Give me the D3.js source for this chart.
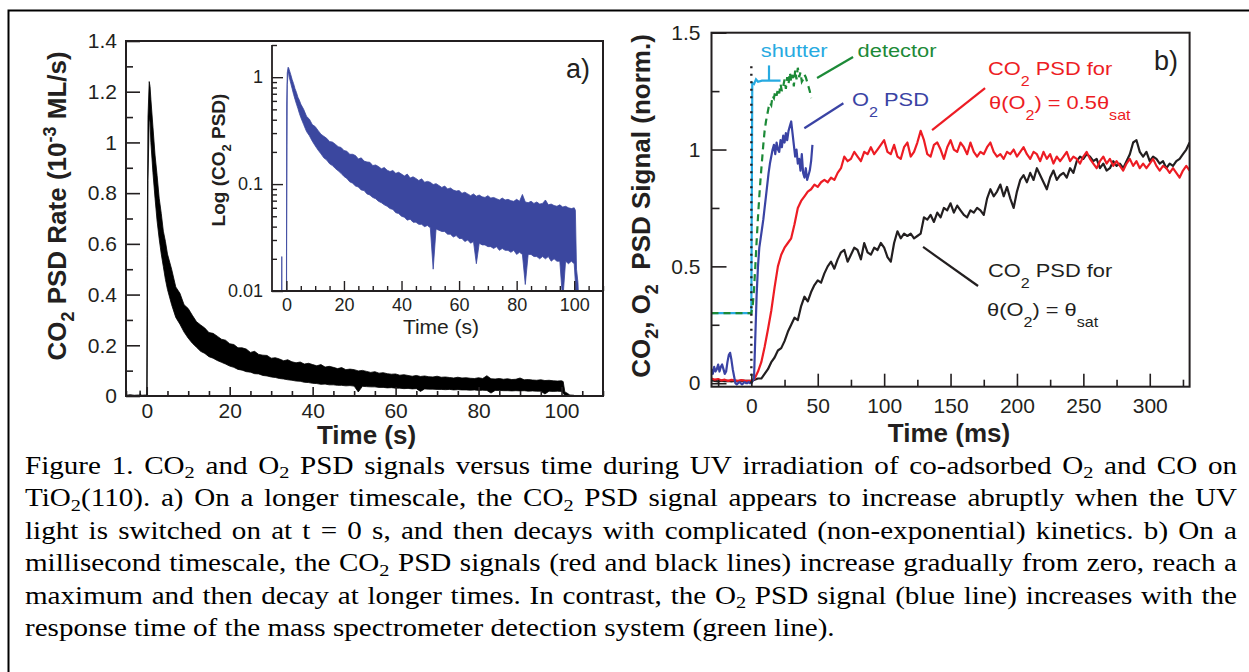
<!DOCTYPE html>
<html>
<head>
<meta charset="utf-8">
<script src="https://cdn.jsdelivr.net/npm/d3@7"></script>
<style>
  html, body { margin: 0; padding: 0; background: #fff; }
  svg { display: block; }
</style>
</head>
<body>
<svg id="fig" width="1249" height="672"></svg>
<script>
// ---------------- data ----------------
// Panel a: CO2 PSD rate (10^-3 ML/s) vs time (s); the noisy trace is kept as its upper/lower envelope
const psdTime = [-5, -4, -3, -2, -1.7, -1.6, -1.5, -1, -0.3, 0, 0.1, 0.3, 0.6, 0.8, 1, 1.5, 2, 2.5, 3, 3.5, 4, 4.5,
  5, 6, 7, 8, 9, 10, 11, 12, 13, 14, 15, 16, 17, 18, 19, 20, 21, 22, 23, 24,
  25, 26, 27, 28, 29, 30, 31, 32, 33, 34, 35, 36, 37, 38, 39, 40, 41, 42, 43, 44,
  45, 46, 47, 48, 49, 50, 51, 52, 53, 54, 55, 56, 57, 58, 59, 60, 61, 62, 63, 64,
  65, 66, 67, 68, 69, 70, 71, 72, 73, 74, 75, 76, 77, 78, 79, 80, 81, 82, 83, 84,
  85, 86, 87, 88, 89, 90, 91, 92, 93, 94, 95, 96, 97, 98, 99, 100,
  100.4, 100.8, 101.3, 102, 103];
const psdHigh = [0.003, 0.005, 0.003, 0.004, 0.004, 0.021, 0.004, 0.003, 0.004, 0.004, 0.55, 1.1, 1.24, 1.22, 1.17, 1.06, 0.95, 0.87, 0.78, 0.72, 0.65, 0.61,
  0.56, 0.5, 0.43, 0.405, 0.36, 0.345, 0.318, 0.293, 0.28, 0.268, 0.25, 0.247, 0.236, 0.224, 0.22, 0.206, 0.203, 0.19, 0.19, 0.185,
  0.172, 0.176, 0.164, 0.161, 0.16, 0.149, 0.151, 0.146, 0.139, 0.143, 0.135, 0.131, 0.134, 0.126, 0.129, 0.124, 0.119, 0.124, 0.114, 0.117,
  0.113, 0.108, 0.112, 0.104, 0.106, 0.104, 0.099, 0.101, 0.097, 0.093, 0.096, 0.09, 0.092, 0.088, 0.086, 0.087, 0.082, 0.084, 0.081, 0.078,
  0.081, 0.077, 0.079, 0.076, 0.075, 0.078, 0.074, 0.075, 0.073, 0.071, 0.074, 0.071, 0.072, 0.07, 0.069, 0.072, 0.069, 0.08, 0.068, 0.067,
  0.069, 0.066, 0.068, 0.065, 0.066, 0.071, 0.064, 0.065, 0.063, 0.062, 0.064, 0.061, 0.062, 0.06, 0.059, 0.06,
  0.057, 0.016, 0.012, 0.004, 0.003];
const psdLow = [0.001, 0.001, 0.001, 0.001, 0.001, 0.001, 0.001, 0.001, 0.001, 0.001, 0.03, 0.85, 1.1, 1.08, 1.0, 0.88, 0.78, 0.69, 0.62, 0.56, 0.51, 0.46,
  0.42, 0.36, 0.31, 0.283, 0.252, 0.228, 0.208, 0.192, 0.176, 0.168, 0.155, 0.149, 0.14, 0.133, 0.126, 0.118, 0.113, 0.105, 0.102, 0.096,
  0.094, 0.088, 0.087, 0.081, 0.079, 0.075, 0.073, 0.069, 0.067, 0.064, 0.062, 0.059, 0.058, 0.054, 0.053, 0.05, 0.049, 0.046, 0.047, 0.044,
  0.044, 0.042, 0.042, 0.04, 0.041, 0.039, 0.016, 0.038, 0.037, 0.036, 0.036, 0.034, 0.034, 0.032, 0.033, 0.031, 0.031, 0.029, 0.03, 0.028,
  0.029, 0.018, 0.028, 0.027, 0.027, 0.026, 0.026, 0.025, 0.026, 0.024, 0.025, 0.024, 0.024, 0.023, 0.024, 0.022, 0.023, 0.022, 0.0115, 0.022,
  0.022, 0.021, 0.021, 0.02, 0.021, 0.02, 0.021, 0.019, 0.02, 0.019, 0.019, 0.008, 0.019, 0.018, 0.019, 0.018,
  0.012, 0.001, 0.001, 0.001, 0.001];

// Panel b: normalised signals vs time (ms)
const msTime = d3.range(-30, 330.01, 2.5);           // sampling grid of the CO2 traces
const co2Half = [0.02, 0.015, 0.018, 0.012, 0.015, 0.01, 0.014, 0.012, 0.01, 0.013, 0.011, 0.01,
  0.01, 0.02, 0.05, 0.09, 0.155, 0.23, 0.31, 0.41, 0.5, 0.55,
  0.58, 0.6, 0.62, 0.68, 0.75, 0.78, 0.8, 0.82, 0.83, 0.85,
  0.84, 0.86, 0.87, 0.86, 0.88, 0.87, 0.9, 0.92, 0.97, 0.95,
  0.96, 0.99, 0.97, 0.95, 0.99, 0.98, 1.01, 0.98, 1.0, 1.02,
  1.04, 0.99, 0.98, 1.02, 0.97, 0.96, 1.01, 1.03, 0.97, 0.99,
  1.03, 1.08, 1.04, 0.98, 0.97, 1.02, 1.03, 1.0, 0.96, 1.01,
  1.04, 1.0, 0.99, 1.03, 1.01, 0.98, 1.03, 0.99, 0.97, 0.99,
  0.98, 1.01, 1.03, 0.99, 0.97, 0.98, 0.96, 0.99, 0.98, 1.0,
  0.97, 0.99, 1.01, 0.98, 0.96, 0.99, 0.98, 0.95, 0.99, 0.96,
  0.98, 0.94, 0.97, 0.95, 0.97, 0.99, 0.95, 0.97, 0.96, 0.94,
  0.97, 0.99, 0.96, 0.94, 0.92, 0.95, 0.97, 0.94, 0.96, 0.93,
  0.95, 0.93, 0.91, 0.94, 0.96, 0.93, 0.95, 0.92, 0.94, 0.92,
  0.94, 0.96, 0.93, 0.91, 0.93, 0.92, 0.9, 0.92, 0.9, 0.88,
  0.91, 0.93, 0.91];
const co2Sat = [0.012, 0.01, 0.008, 0.011, 0.009, 0.01, 0.008, 0.01, 0.009, 0.011, 0.01, 0.01,
  0.01, 0.015, 0.02, 0.02, 0.04, 0.06, 0.09, 0.11, 0.14, 0.15,
  0.18, 0.22, 0.25, 0.28, 0.27, 0.33, 0.37, 0.35, 0.39, 0.42,
  0.44, 0.43, 0.47, 0.5, 0.52, 0.49, 0.53, 0.56, 0.57, 0.52,
  0.55, 0.58, 0.57, 0.53, 0.6, 0.56, 0.55, 0.58, 0.57, 0.6,
  0.58, 0.54, 0.52, 0.6, 0.65, 0.62, 0.64, 0.63, 0.64, 0.62,
  0.63, 0.64, 0.71, 0.7, 0.72, 0.69, 0.73, 0.71, 0.75, 0.74,
  0.77, 0.73, 0.76, 0.74, 0.72, 0.71, 0.74, 0.73, 0.75, 0.74,
  0.72, 0.79, 0.83, 0.8, 0.82, 0.85, 0.8, 0.84, 0.79, 0.75,
  0.82, 0.87, 0.89, 0.86, 0.9, 0.87, 0.92, 0.89, 0.86, 0.83,
  0.88, 0.91, 0.87, 0.89, 0.9, 0.88, 0.92, 0.9, 0.95, 0.97,
  0.96, 0.98, 0.97, 0.95, 0.96, 0.92, 0.94, 0.91, 0.92, 0.95,
  0.93, 0.94, 0.92, 0.95, 0.98, 1.03, 1.04, 0.99, 0.97, 0.99,
  0.95, 0.97, 0.96, 0.94, 0.95, 0.92, 0.94, 0.93, 0.95, 0.96,
  0.98, 1.0, 1.03];

const o2Time = d3.range(-30, 46.5, 1);
const o2Psd = [0.06, 0.04, 0.07, 0.05, 0.06, 0.08, 0.05, 0.07, 0.08, 0.06,
  0.04, 0.05, 0.09, 0.12, 0.13, 0.1, 0.06, 0.03, 0.0, -0.005,
  0.0, 0.005, 0.0, -0.005, 0.0, 0.005, 0.0, 0.0, 0.005, 0.0, 0.0, 0.01,
  0.02, 0.2, 0.38, 0.5, 0.58, 0.62, 0.66, 0.7, 0.75, 0.8,
  0.85, 0.9, 0.94, 0.97, 1.0, 1.02, 0.98, 1.03, 1.0, 0.99,
  1.04, 1.01, 1.06, 1.03, 1.07, 1.04, 1.08, 1.1, 1.12, 1.07,
  1.02, 0.97, 1.0, 0.94, 0.96, 0.91, 0.98, 0.9, 0.88, 0.92,
  0.87, 0.89, 0.91, 0.95, 1.02];

const detTime = [-30, -20, -10].concat(d3.range(0, 45.5, 1));
const detector = [0.3, 0.3, 0.3,
  0.3, 0.33, 0.4, 0.5, 0.61, 0.71, 0.8, 0.88, 0.95, 1.02,
  1.08, 1.12, 1.15, 1.18, 1.2, 1.19, 1.23, 1.22, 1.25, 1.23,
  1.26, 1.24, 1.28, 1.25, 1.27, 1.3, 1.26, 1.31, 1.28, 1.33,
  1.29, 1.32, 1.27, 1.34, 1.3, 1.35, 1.31, 1.33, 1.29, 1.3,
  1.32, 1.31, 1.29, 1.27, 1.25, 1.22];

const shutterTime = [-30, 0, 0.7, 2, 3.5, 5, 8, 22];
const shutter = [0.3, 0.3, 1.285, 1.28, 1.3, 1.29, 1.295, 1.295];
const lightOnTime = 0;        // UV switched on
const lightOnTop = 1.374;

// axes
const aTimeDomain = [-5, 110];
const aRateDomain = [0, 1.4];
const insetDomain = [0.01, 2];
const bTimeDomain = [-30, 330];
const bSignalDomain = [-0.015, 1.5];
const aTimeTicks = [0, 20, 40, 60, 80, 100];
const aRateTicks = [0, 0.2, 0.4, 0.6, 0.8, 1, 1.2, 1.4];
const insetTicks = [0.01, 0.1, 1];
const bTimeTicks = [0, 50, 100, 150, 200, 250, 300];
const bSignalTicks = [0, 0.5, 1, 1.5];

const caption = [
  "Figure 1. CO_2 and O_2 PSD signals versus time during UV irradiation of co-adsorbed O_2 and CO on",
  "TiO_2(110). a) On a longer timescale, the CO_2 PSD signal appears to increase abruptly when the UV",
  "light is switched on at t = 0 s, and then decays with complicated (non-exponential) kinetics. b) On a",
  "millisecond timescale, the CO_2 PSD signals (red and black lines) increase gradually from zero, reach a",
  "maximum and then decay at longer times. In contrast, the O_2 PSD signal (blue line) increases with the",
  "response time of the mass spectrometer detection system (green line)."
];

// ---------------- drawing ----------------
const INK = "#231f20";
const RED = "#ed1c24", BLUE = "#3a43a4", GREEN = "#1c8a37", SKY = "#27aae1", INSET_BLUE = "#3b479f";
const SANS = "'Liberation Sans', Arial, Helvetica, sans-serif";
const SERIF = "'Liberation Serif', 'Times New Roman', serif";
const svg = d3.select("#fig");

// figure frame (runs off the right and bottom of the page)
svg.append("path").attr("d", "M8.5,672V10.5H1249")
  .attr("fill", "none").attr("stroke", "#000").attr("stroke-width", 2);

// text with sub/superscript parts: [string, 0 | 1 (sub) | -1 (sup)]
function rich(sel, parts, o) {
  let cur = 0;
  parts.forEach(([s, k]) => {
    const target = k === 1 ? o.sub : k === -1 ? -o.sup : 0;
    const ts = sel.append("tspan").text(s).attr("dy", target - cur);
    if (k !== 0) ts.attr("font-size", o.small);
    cur = target;
  });
  return sel;
}

function tickAxis(g, axisFn, scale, values, len, pad, labelled, fontSize, width) {
  const ax = axisFn(scale).tickValues(values).tickSize(-len).tickPadding(pad)
    .tickFormat(labelled ? (d => String(d)) : () => "");
  const s = g.append("g").call(ax);
  s.select(".domain").remove();
  s.selectAll("line").attr("stroke", INK).attr("stroke-width", width || 1.6);
  s.selectAll("text").attr("font-family", SANS).attr("font-size", fontSize).attr("fill", INK);
  return s;
}

// ---------- panel a ----------
const A = { left: 126, right: 603, top: 41, bottom: 396 };
const xA = d3.scaleLinear().domain(aTimeDomain).range([A.left, A.right]);
const yA = d3.scaleLinear().domain(aRateDomain).range([A.bottom, A.top]);
const gA = svg.append("g");

const band = psdTime.map((t, i) => ({ t, hi: psdHigh[i], lo: psdLow[i] }));
gA.append("path").datum(band)
  .attr("d", d3.area().x(d => xA(d.t)).y0(d => yA(d.lo)).y1(d => yA(d.hi)))
  .attr("fill", "#000").attr("stroke", "#000").attr("stroke-width", 0.8);

tickAxis(gA.append("g").attr("transform", `translate(${A.left},0)`), d3.axisLeft, yA,
  d3.range(0.1, 1.4, 0.2), 7, 9, false, 21);
tickAxis(gA.append("g").attr("transform", `translate(${A.left},0)`), d3.axisLeft, yA,
  aRateTicks, 14, 9, true, 21);
tickAxis(gA.append("g").attr("transform", `translate(0,${A.bottom})`), d3.axisBottom, xA,
  d3.range(-5, 111, 5).filter(v => v % 20 !== 0), 5, 7, false, 21);
tickAxis(gA.append("g").attr("transform", `translate(0,${A.bottom})`), d3.axisBottom, xA,
  aTimeTicks, 9, 7, true, 21);

gA.append("rect").attr("x", A.left).attr("y", A.top)
  .attr("width", A.right - A.left).attr("height", A.bottom - A.top)
  .attr("fill", "none").attr("stroke", INK).attr("stroke-width", 2);

rich(gA.append("text").attr("transform", "translate(66,206) rotate(-90)")
  .attr("text-anchor", "middle").attr("font-family", SANS).attr("font-weight", "bold")
  .attr("font-size", 26).attr("fill", INK),
  [["CO", 0], ["2", 1], [" PSD Rate (10", 0], ["-3", -1], [" ML/s)", 0]],
  { sub: 8, sup: 10, small: 18 });
gA.append("text").attr("x", (A.left + A.right) / 2 + 2).attr("y", 444)
  .attr("text-anchor", "middle").attr("font-family", SANS).attr("font-weight", "bold")
  .attr("font-size", 26).attr("fill", INK).text("Time (s)");
gA.append("text").attr("x", 566).attr("y", 78).attr("font-family", SANS)
  .attr("font-size", 27).attr("fill", INK).text("a)");

// inset: same trace on a log scale
const I = { left: 272, right: 603, top: 45, bottom: 291 };
const xI = d3.scaleLinear().domain(aTimeDomain).range([I.left, I.right]);
const yI = d3.scaleLog().domain(insetDomain).range([I.bottom, I.top]);
svg.append("clipPath").attr("id", "insetClip").append("rect")
  .attr("x", I.left).attr("y", I.top - 20).attr("width", I.right - I.left).attr("height", I.bottom - I.top + 20);
const gI = svg.append("g");
gI.append("path").datum(band).attr("clip-path", "url(#insetClip)")
  .attr("d", d3.area().x(d => xI(d.t)).y0(d => yI(d.lo)).y1(d => yI(d.hi)))
  .attr("fill", INSET_BLUE).attr("stroke", INSET_BLUE).attr("stroke-width", 0.8);

const insetMinor = [];
[0.01, 0.1, 1].forEach(dec => [2, 3, 4, 5, 6, 7, 8, 9].forEach(m => {
  const v = +(dec * m).toPrecision(2); if (v <= 2) insetMinor.push(v);
}));
tickAxis(gI.append("g").attr("transform", `translate(${I.left},0)`), d3.axisLeft, yI,
  insetMinor, 5, 9, false, 18, 1.4);
tickAxis(gI.append("g").attr("transform", `translate(${I.left},0)`), d3.axisLeft, yI,
  insetTicks, 11, 9, true, 18, 1.4);
tickAxis(gI.append("g").attr("transform", `translate(0,${I.bottom})`), d3.axisBottom, xI,
  d3.range(-5, 111, 5).filter(v => v % 20 !== 0 && v > -5), 5, 7, false, 18, 1.4);
tickAxis(gI.append("g").attr("transform", `translate(0,${I.bottom})`), d3.axisBottom, xI,
  aTimeTicks, 10, 7, true, 18, 1.4);
gI.append("path").attr("d", `M${I.left},${I.top}V${I.bottom}H${I.right}`)
  .attr("fill", "none").attr("stroke", INK).attr("stroke-width", 1.8);
rich(gI.append("text").attr("transform", "translate(225,160) rotate(-90)")
  .attr("text-anchor", "middle").attr("font-family", SANS).attr("font-weight", "bold")
  .attr("font-size", 19).attr("fill", INK),
  [["Log (CO", 0], ["2", 1], [" PSD)", 0]], { sub: 6, sup: 0, small: 13 });
gI.append("text").attr("x", 441).attr("y", 334).attr("text-anchor", "middle")
  .attr("font-family", SANS).attr("font-size", 21).attr("fill", INK).text("Time (s)");

// ---------- panel b ----------
const B = { left: 711.5, right: 1189.6, top: 32.7, bottom: 386.7 };
const xB = d3.scaleLinear().domain(bTimeDomain).range([B.left, B.right]);
const yB = d3.scaleLinear().domain(bSignalDomain).range([B.bottom, B.top]);
const gB = svg.append("g");
svg.append("clipPath").attr("id", "bClip").append("rect")
  .attr("x", B.left).attr("y", B.top).attr("width", B.right - B.left).attr("height", B.bottom - B.top);
const lineB = d3.line().x(d => xB(d[0])).y(d => yB(d[1]));
const zip = (ts, vs) => ts.map((t, i) => [t, vs[i]]);
const plotB = gB.append("g").attr("clip-path", "url(#bClip)");

plotB.append("path").datum(zip(msTime, co2Sat)).attr("d", lineB)
  .attr("fill", "none").attr("stroke", INK).attr("stroke-width", 2.2).attr("stroke-linejoin", "round");
plotB.append("path").datum(zip(msTime, co2Half)).attr("d", lineB)
  .attr("fill", "none").attr("stroke", RED).attr("stroke-width", 2.2).attr("stroke-linejoin", "round");
plotB.append("path").datum(zip(shutterTime, shutter)).attr("d", lineB)
  .attr("fill", "none").attr("stroke", SKY).attr("stroke-width", 2.2);
plotB.append("path").datum(zip(detTime, detector)).attr("d", lineB)
  .attr("fill", "none").attr("stroke", GREEN).attr("stroke-width", 2.2).attr("stroke-dasharray", "7,5");
plotB.append("path").datum(zip(o2Time, o2Psd)).attr("d", lineB)
  .attr("fill", "none").attr("stroke", BLUE).attr("stroke-width", 2.2).attr("stroke-linejoin", "round");
plotB.append("line").attr("x1", xB(lightOnTime)).attr("x2", xB(lightOnTime))
  .attr("y1", yB(0)).attr("y2", yB(lightOnTop))
  .attr("stroke", INK).attr("stroke-width", 2.4).attr("stroke-dasharray", "2,5.5");

tickAxis(gB.append("g").attr("transform", `translate(${B.left},0)`), d3.axisLeft, yB,
  [0.25, 0.75, 1.25], 8, 11, false, 21);
tickAxis(gB.append("g").attr("transform", `translate(${B.left},0)`), d3.axisLeft, yB,
  bSignalTicks, 15, 11, true, 21);
tickAxis(gB.append("g").attr("transform", `translate(0,${B.bottom})`), d3.axisBottom, xB,
  d3.range(-25, 331, 25).filter(v => v % 50 !== 0), 7, 11, false, 21);
tickAxis(gB.append("g").attr("transform", `translate(0,${B.bottom})`), d3.axisBottom, xB,
  bTimeTicks, 13, 11, true, 21);
gB.append("rect").attr("x", B.left).attr("y", B.top)
  .attr("width", B.right - B.left).attr("height", B.bottom - B.top)
  .attr("fill", "none").attr("stroke", INK).attr("stroke-width", 2);

rich(gB.append("text").attr("transform", "translate(650,206) rotate(-90)")
  .attr("text-anchor", "middle").attr("font-family", SANS).attr("font-weight", "bold")
  .attr("font-size", 26).attr("fill", INK),
  [["CO", 0], ["2", 1], [", O", 0], ["2", 1], ["\u00a0\u00a0PSD Signal (norm.)", 0]],
  { sub: 8, sup: 0, small: 18 });
gB.append("text").attr("x", 949).attr("y", 442).attr("text-anchor", "middle")
  .attr("font-family", SANS).attr("font-weight", "bold").attr("font-size", 26)
  .attr("fill", INK).text("Time (ms)");
gB.append("text").attr("x", 1154).attr("y", 70).attr("font-family", SANS)
  .attr("font-size", 27).attr("fill", INK).text("b)");

// leader lines and labels, anchored in data units
const leaders = [
  { from: [49.5, 1.306], to: [76.6, 1.396], color: GREEN },
  { from: [39.9, 1.091], to: [69.3, 1.198], color: BLUE },
  { from: [136.1, 1.083], to: [176, 1.263], color: RED },
  { from: [129.3, 0.583], to: [170.7, 0.416], color: INK },
  { from: [13.3, 1.295], to: [13.3, 1.36], color: SKY }
];
leaders.forEach(l => gB.append("line")
  .attr("x1", xB(l.from[0])).attr("y1", yB(l.from[1]))
  .attr("x2", xB(l.to[0])).attr("y2", yB(l.to[1]))
  .attr("stroke", l.color).attr("stroke-width", 2.2));

const notes = [
  { parts: [["shutter", 0]], at: [7.1, 1.394], color: SKY },
  { parts: [["detector", 0]], at: [80, 1.396], color: GREEN },
  { parts: [["O", 0], ["2", 1], [" PSD", 0]], at: [75.8, 1.186], color: BLUE },
  { parts: [["CO", 0], ["2", 1], [" PSD for", 0]], at: [178.2, 1.317], color: RED },
  { parts: [["\u03b8(O", 0], ["2", 1], [") = 0.5\u03b8", 0], ["sat", 1]], at: [179, 1.173], color: RED },
  { parts: [["CO", 0], ["2", 1], [" PSD for", 0]], at: [178.2, 0.454], color: INK },
  { parts: [["\u03b8(O", 0], ["2", 1], [") = \u03b8", 0], ["sat", 1]], at: [177.5, 0.288], color: INK }
];
notes.forEach(n => rich(gB.append("text")
  .attr("transform", `translate(${xB(n.at[0])},${yB(n.at[1])}) scale(1.15,1)`)
  .attr("font-family", SANS).attr("font-size", 19).attr("fill", n.color),
  n.parts, { sub: 11, sup: 0, small: 14 }));

// ---------- caption (justified, last line flush left, type set slightly wide) ----------
const CAP = { left: 25, right: 1237, top: 474, step: 32.5, size: 24.5, lastLineWidth: 810 };
const gC = svg.append("g").attr("font-family", SERIF).attr("fill", "#000");

function setLine(line, y) {
  return line.split(" ").map(w => {
    const bits = w.split(/_(.)/);
    const t = gC.append("text").attr("y", y).attr("font-size", CAP.size);
    rich(t, bits.map((b, i) => [b, i % 2]), { sub: CAP.size * 0.17, sup: 0, small: CAP.size * 0.7 });
    return { node: t, w: t.node().getComputedTextLength() };
  });
}
const space = CAP.size * 0.25;
const probe = setLine(caption[caption.length - 1], -100);
const sx = CAP.lastLineWidth / (d3.sum(probe, d => d.w) + space * (probe.length - 1));
probe.forEach(d => d.node.remove());
gC.attr("transform", `scale(${sx},1)`);

caption.forEach((line, li) => {
  const y = CAP.top + li * CAP.step;
  const words = setLine(line, y);
  const total = d3.sum(words, d => d.w);
  const last = li === caption.length - 1;
  const gap = last ? space : ((CAP.right - CAP.left) / sx - total) / (words.length - 1);
  let x = CAP.left / sx;
  words.forEach(d => { d.node.attr("x", x); x += d.w + gap; });
});
</script>
</body>
</html>
